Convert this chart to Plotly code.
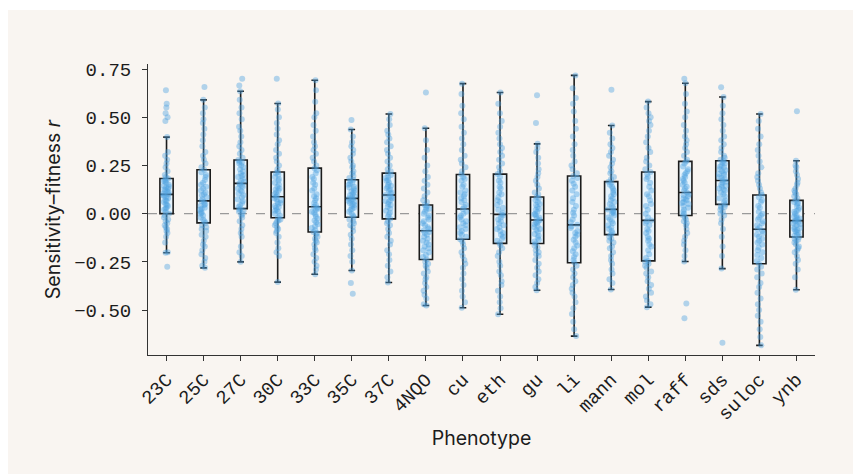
import plotly.graph_objects as go

phenotypes = ["23C", "25C", "27C", "30C", "33C", "35C", "37C", "4NQO", "cu", "eth",
              "gu", "li", "mann", "mol", "raff", "sds", "suloc", "ynb"]

r_23C = [-0.275, -0.203, -0.20, -0.15, -0.12, -0.10, -0.09, -0.08, -0.07, -0.06, -0.05, -0.04, -0.03, -0.02, -0.01,
         0.0,
         0.01, 0.02, 0.025, 0.03, 0.04, 0.045, 0.05, 0.06, 0.065, 0.07, 0.08, 0.085, 0.09, 0.095,
         0.10,
         0.105, 0.11, 0.115, 0.12, 0.125, 0.13, 0.135, 0.14, 0.145, 0.15, 0.16, 0.165, 0.17, 0.175,
         0.182,
         0.19, 0.20, 0.22, 0.24, 0.26, 0.28, 0.30, 0.32, 0.397, 0.48, 0.50, 0.52, 0.55, 0.57, 0.64]
r_25C = [-0.281, -0.27, -0.25, -0.23, -0.21, -0.19, -0.17, -0.16, -0.14, -0.12, -0.11, -0.09, -0.08, -0.07, -0.06,
         -0.048,
         -0.04, -0.03, -0.02, -0.01, 0.0, 0.005, 0.01, 0.02, 0.025, 0.03, 0.04, 0.045, 0.05, 0.06,
         0.066,
         0.075, 0.085, 0.095, 0.10, 0.11, 0.12, 0.13, 0.14, 0.15, 0.16, 0.175, 0.19, 0.20, 0.215,
         0.228,
         0.24, 0.26, 0.28, 0.30, 0.32, 0.35, 0.38, 0.41, 0.44, 0.47, 0.49, 0.52, 0.55, 0.59, 0.657]
r_27C = [-0.25, -0.22, -0.20, -0.17, -0.12, -0.10, -0.08, -0.06, -0.04, -0.02, -0.01, 0.0, 0.01, 0.015, 0.02,
         0.026,
         0.035, 0.045, 0.055, 0.065, 0.075, 0.085, 0.095, 0.105, 0.115, 0.12, 0.13, 0.14, 0.145, 0.15,
         0.157,
         0.165, 0.17, 0.18, 0.19, 0.195, 0.20, 0.21, 0.22, 0.23, 0.24, 0.25, 0.26, 0.265, 0.27,
         0.278,
         0.29, 0.31, 0.33, 0.35, 0.37, 0.40, 0.43, 0.45, 0.49, 0.52, 0.55, 0.59, 0.635, 0.665, 0.70]
r_30C = [-0.355, -0.22, -0.20, -0.18, -0.15, -0.12, -0.10, -0.09, -0.08, -0.07, -0.06, -0.05, -0.04, -0.035, -0.03,
         -0.021,
         -0.01, 0.0, 0.01, 0.015, 0.02, 0.03, 0.035, 0.04, 0.05, 0.055, 0.06, 0.07, 0.075, 0.08,
         0.088,
         0.095, 0.10, 0.11, 0.12, 0.125, 0.13, 0.14, 0.15, 0.16, 0.17, 0.18, 0.19, 0.20, 0.21,
         0.216,
         0.23, 0.25, 0.27, 0.29, 0.31, 0.33, 0.36, 0.38, 0.41, 0.44, 0.47, 0.50, 0.54, 0.571, 0.70]
r_33C = [-0.314, -0.29, -0.27, -0.25, -0.23, -0.21, -0.19, -0.18, -0.16, -0.15, -0.14, -0.13, -0.12, -0.11, -0.10,
         -0.095,
         -0.085, -0.075, -0.065, -0.055, -0.045, -0.035, -0.025, -0.015, -0.005, 0.005, 0.01, 0.02, 0.025, 0.03,
         0.036,
         0.045, 0.055, 0.07, 0.08, 0.09, 0.10, 0.12, 0.13, 0.15, 0.16, 0.18, 0.19, 0.21, 0.225,
         0.236,
         0.25, 0.27, 0.29, 0.31, 0.33, 0.35, 0.37, 0.40, 0.43, 0.46, 0.50, 0.52, 0.58, 0.64, 0.692]
r_35C = [-0.415, -0.36, -0.295, -0.25, -0.22, -0.19, -0.16, -0.13, -0.11, -0.09, -0.07, -0.06, -0.05, -0.04, -0.03,
         -0.019,
         -0.01, 0.0, 0.01, 0.02, 0.025, 0.03, 0.04, 0.045, 0.05, 0.055, 0.06, 0.065, 0.07, 0.075,
         0.079,
         0.085, 0.09, 0.095, 0.10, 0.11, 0.115, 0.12, 0.13, 0.135, 0.14, 0.15, 0.155, 0.16, 0.17,
         0.176,
         0.185, 0.195, 0.21, 0.22, 0.24, 0.25, 0.27, 0.29, 0.31, 0.33, 0.35, 0.37, 0.40, 0.436, 0.486]
r_37C = [-0.357, -0.33, -0.30, -0.27, -0.24, -0.21, -0.19, -0.16, -0.14, -0.12, -0.10, -0.08, -0.06, -0.05, -0.04,
         -0.027,
         -0.015, -0.005, 0.005, 0.015, 0.025, 0.035, 0.045, 0.05, 0.06, 0.065, 0.07, 0.08, 0.085, 0.09,
         0.097,
         0.105, 0.11, 0.12, 0.125, 0.13, 0.14, 0.145, 0.15, 0.16, 0.17, 0.175, 0.185, 0.19, 0.20,
         0.21,
         0.22, 0.23, 0.25, 0.27, 0.29, 0.31, 0.33, 0.35, 0.37, 0.39, 0.41, 0.43, 0.46, 0.49, 0.517]
r_4NQO = [-0.476, -0.47, -0.44, -0.42, -0.40, -0.38, -0.36, -0.34, -0.33, -0.31, -0.30, -0.28, -0.27, -0.26, -0.25,
          -0.238,
          -0.225, -0.215, -0.20, -0.19, -0.18, -0.17, -0.16, -0.15, -0.14, -0.13, -0.12, -0.11, -0.10, -0.095,
          -0.089,
          -0.08, -0.07, -0.06, -0.05, -0.04, -0.03, -0.02, -0.01, 0.0, 0.01, 0.02, 0.025, 0.03, 0.04,
          0.045,
          0.06, 0.07, 0.09, 0.11, 0.13, 0.15, 0.17, 0.19, 0.22, 0.25, 0.29, 0.33, 0.38, 0.443, 0.628]
r_cu = [-0.488, -0.46, -0.43, -0.40, -0.37, -0.34, -0.31, -0.28, -0.26, -0.24, -0.22, -0.20, -0.18, -0.16, -0.145,
        -0.133,
        -0.12, -0.11, -0.10, -0.09, -0.08, -0.07, -0.06, -0.05, -0.04, -0.03, -0.02, -0.01, 0.0, 0.01,
        0.024,
        0.035, 0.045, 0.06, 0.07, 0.08, 0.09, 0.10, 0.11, 0.12, 0.14, 0.15, 0.17, 0.18, 0.19,
        0.203,
        0.22, 0.24, 0.26, 0.28, 0.30, 0.33, 0.36, 0.39, 0.42, 0.45, 0.49, 0.52, 0.56, 0.62, 0.674]
r_eth = [-0.522, -0.49, -0.46, -0.43, -0.40, -0.37, -0.35, -0.32, -0.30, -0.27, -0.25, -0.22, -0.20, -0.18, -0.165,
         -0.154,
         -0.14, -0.13, -0.12, -0.11, -0.10, -0.09, -0.08, -0.07, -0.06, -0.05, -0.04, -0.03, -0.02, -0.01,
         -0.004,
         0.005, 0.02, 0.03, 0.045, 0.06, 0.07, 0.085, 0.10, 0.11, 0.13, 0.14, 0.16, 0.17, 0.19,
         0.205,
         0.22, 0.24, 0.26, 0.28, 0.30, 0.32, 0.34, 0.36, 0.39, 0.42, 0.45, 0.48, 0.52, 0.57, 0.628]
r_gu = [-0.397, -0.38, -0.36, -0.34, -0.32, -0.30, -0.28, -0.26, -0.24, -0.22, -0.21, -0.20, -0.19, -0.175, -0.165,
        -0.155,
        -0.145, -0.135, -0.125, -0.115, -0.105, -0.095, -0.085, -0.08, -0.07, -0.065, -0.055, -0.05, -0.045, -0.04,
        -0.033,
        -0.025, -0.02, -0.01, -0.005, 0.0, 0.01, 0.02, 0.025, 0.035, 0.045, 0.05, 0.06, 0.07, 0.08,
        0.086,
        0.10, 0.11, 0.13, 0.15, 0.17, 0.19, 0.21, 0.23, 0.26, 0.29, 0.32, 0.34, 0.362, 0.47, 0.614]
r_li = [-0.635, -0.60, -0.56, -0.52, -0.49, -0.46, -0.43, -0.41, -0.39, -0.37, -0.35, -0.33, -0.31, -0.29, -0.27,
        -0.255,
        -0.24, -0.225, -0.21, -0.195, -0.18, -0.165, -0.15, -0.135, -0.12, -0.11, -0.10, -0.09, -0.075, -0.065,
        -0.058,
        -0.045, -0.03, -0.01, 0.005, 0.02, 0.04, 0.06, 0.08, 0.10, 0.12, 0.14, 0.155, 0.17, 0.185,
        0.195,
        0.21, 0.23, 0.25, 0.27, 0.30, 0.33, 0.36, 0.40, 0.44, 0.48, 0.53, 0.57, 0.60, 0.65, 0.717]
r_mann = [-0.393, -0.36, -0.34, -0.31, -0.29, -0.26, -0.24, -0.22, -0.20, -0.18, -0.17, -0.15, -0.14, -0.13, -0.12,
          -0.109,
          -0.10, -0.09, -0.08, -0.07, -0.06, -0.05, -0.04, -0.03, -0.02, -0.01, 0.0, 0.005, 0.01, 0.015,
          0.022,
          0.03, 0.04, 0.05, 0.06, 0.07, 0.08, 0.09, 0.10, 0.11, 0.12, 0.13, 0.14, 0.15, 0.16,
          0.166,
          0.18, 0.19, 0.21, 0.22, 0.24, 0.26, 0.28, 0.30, 0.32, 0.34, 0.36, 0.39, 0.42, 0.457, 0.643]
r_mol = [-0.485, -0.47, -0.45, -0.43, -0.41, -0.39, -0.37, -0.35, -0.33, -0.31, -0.30, -0.28, -0.27, -0.26, -0.25,
         -0.245,
         -0.23, -0.21, -0.19, -0.17, -0.16, -0.14, -0.13, -0.12, -0.10, -0.09, -0.08, -0.06, -0.05, -0.04,
         -0.035,
         -0.02, 0.0, 0.02, 0.04, 0.05, 0.07, 0.09, 0.10, 0.12, 0.14, 0.16, 0.18, 0.19, 0.205,
         0.216,
         0.23, 0.25, 0.27, 0.29, 0.32, 0.34, 0.37, 0.40, 0.43, 0.46, 0.48, 0.50, 0.52, 0.55, 0.581]
r_raff = [-0.542, -0.466, -0.248, -0.22, -0.19, -0.16, -0.14, -0.12, -0.10, -0.08, -0.06, -0.05, -0.04, -0.03, -0.02,
          -0.01,
          0.0, 0.01, 0.02, 0.03, 0.04, 0.05, 0.055, 0.06, 0.07, 0.075, 0.08, 0.09, 0.095, 0.10,
          0.11,
          0.12, 0.13, 0.14, 0.15, 0.16, 0.17, 0.18, 0.19, 0.20, 0.21, 0.22, 0.23, 0.245, 0.26,
          0.271,
          0.28, 0.30, 0.32, 0.34, 0.36, 0.38, 0.40, 0.43, 0.46, 0.50, 0.53, 0.57, 0.62, 0.676, 0.70]
r_sds = [-0.669, -0.285, -0.22, -0.17, -0.12, -0.08, -0.05, -0.03, -0.01, 0.0, 0.01, 0.02, 0.03, 0.035, 0.04,
         0.048,
         0.06, 0.07, 0.08, 0.09, 0.10, 0.11, 0.12, 0.125, 0.13, 0.14, 0.145, 0.15, 0.16, 0.165,
         0.172,
         0.18, 0.185, 0.19, 0.20, 0.205, 0.21, 0.22, 0.225, 0.23, 0.24, 0.245, 0.25, 0.26, 0.265,
         0.274,
         0.28, 0.29, 0.30, 0.32, 0.34, 0.36, 0.38, 0.40, 0.43, 0.46, 0.49, 0.52, 0.56, 0.605, 0.655]
r_suloc = [-0.683, -0.64, -0.60, -0.56, -0.53, -0.50, -0.47, -0.44, -0.41, -0.38, -0.36, -0.33, -0.31, -0.29, -0.275,
           -0.26,
           -0.245, -0.23, -0.215, -0.20, -0.19, -0.175, -0.16, -0.15, -0.14, -0.13, -0.12, -0.11, -0.10, -0.09,
           -0.081,
           -0.07, -0.06, -0.05, -0.04, -0.03, -0.02, -0.01, 0.0, 0.01, 0.03, 0.04, 0.06, 0.07, 0.085,
           0.097,
           0.11, 0.13, 0.15, 0.17, 0.19, 0.21, 0.24, 0.27, 0.30, 0.33, 0.36, 0.40, 0.44, 0.48, 0.517]
r_ynb = [-0.395, -0.33, -0.29, -0.26, -0.24, -0.22, -0.20, -0.19, -0.18, -0.17, -0.16, -0.15, -0.14, -0.135, -0.13,
         -0.121,
         -0.115, -0.11, -0.10, -0.095, -0.09, -0.085, -0.08, -0.075, -0.07, -0.06, -0.055, -0.05, -0.045, -0.04,
         -0.036,
         -0.03, -0.025, -0.02, -0.015, -0.01, 0.0, 0.01, 0.015, 0.02, 0.03, 0.04, 0.05, 0.055, 0.06,
         0.069,
         0.08, 0.09, 0.10, 0.11, 0.12, 0.13, 0.15, 0.16, 0.18, 0.20, 0.22, 0.24, 0.25, 0.274, 0.531]

series = [r_23C, r_25C, r_27C, r_30C, r_33C, r_35C, r_37C, r_4NQO, r_cu, r_eth,
          r_gu, r_li, r_mann, r_mol, r_raff, r_sds, r_suloc, r_ynb]

y_ticks = [-0.5, -0.25, 0.0, 0.25, 0.5, 0.75]

xs, ys = [], []
for name, vals in zip(phenotypes, series):
    xs.extend([name] * len(vals))
    ys.extend(vals)

PANEL = "#f9f5f1"
INK = "#1c1c1c"
MONO = "Liberation Mono, Cousine, monospace"
SANS = "Inter, Roboto, sans-serif"

fig = go.Figure()
fig.add_trace(go.Box(
    x=xs, y=ys,
    boxpoints="all", jitter=0.55, pointpos=0,
    quartilemethod="inclusive",
    fillcolor="#e6f3fc",
    line=dict(color=INK, width=1.6),
    whiskerwidth=0.5,
    marker=dict(color="#4fa3e0", opacity=0.42, size=6, line=dict(width=0)),
    hoverinfo="skip",
    showlegend=False,
))

fig.update_layout(
    width=853, height=474,
    margin=dict(l=148, r=38, t=64, b=119),
    paper_bgcolor="white",
    plot_bgcolor=PANEL,
    boxgap=0.49,
    showlegend=False,
    shapes=[
        dict(type="rect", xref="paper", yref="paper",
             x0=(8 - 148) / 667, x1=1.2, y0=-0.6, y1=(355 - 10) / 291,
             fillcolor=PANEL, line=dict(width=0), layer="below"),
        dict(type="line", xref="paper", yref="y", x0=0, x1=1, y0=0, y1=0,
             line=dict(color="#9a9a9a", width=1.2, dash="dash"), layer="below"),
    ],
)

fig.update_xaxes(
    type="category", categoryorder="array", categoryarray=phenotypes,
    range=[-0.5, 17.5],
    showline=True, linecolor="#333333", linewidth=1,
    ticks="outside", ticklen=5, tickcolor="#333333",
    tickangle=-45, tickfont=dict(family=MONO, size=19, color=INK),
    showgrid=False, zeroline=False,
    title=dict(text="Phenotype", font=dict(family=SANS, size=19.5, color=INK), standoff=6),
)
fig.update_yaxes(
    range=[-0.733, 0.776],
    tickvals=y_ticks, tickformat=".2f",
    showline=True, linecolor="#333333", linewidth=1,
    ticks="outside", ticklen=5, tickcolor="#333333",
    ticklabelstandoff=7,
    tickfont=dict(family=MONO, size=19, color=INK),
    showgrid=False, zeroline=False,
    title=dict(text="Sensitivity–fitness <i>r</i>", font=dict(family=SANS, size=19.5, color=INK), standoff=8),
)

fig.write_html("out.html")
